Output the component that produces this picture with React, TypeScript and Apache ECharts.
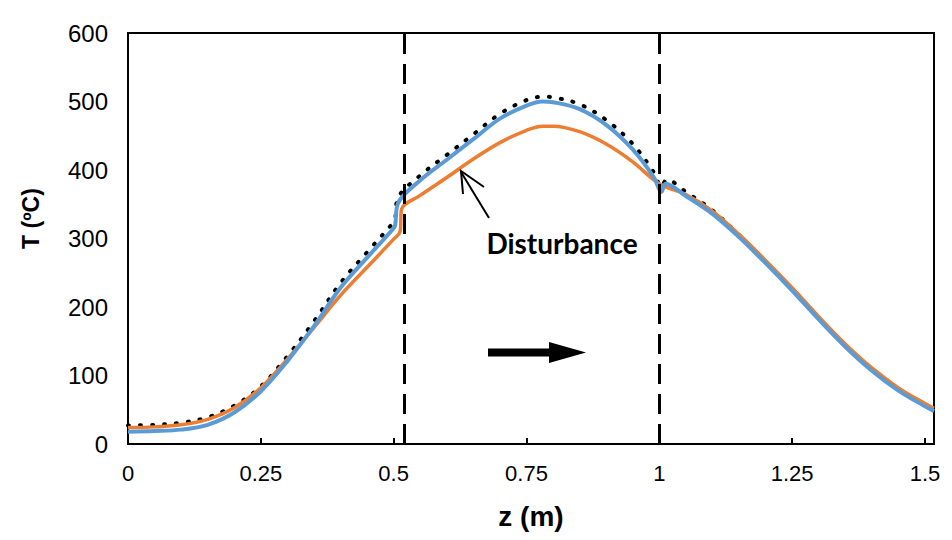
import React, { useEffect, useRef } from "react";
import * as echarts from "echarts";

// z positions (m) and temperatures (°C)
const zOrange = [0, 0.05, 0.1, 0.15, 0.2, 0.25, 0.3, 0.35, 0.4, 0.45, 0.5, 0.512, 0.515, 0.55, 0.6, 0.65, 0.7, 0.75, 0.78, 0.8, 0.85, 0.9, 0.95, 1.0, 1.05, 1.1, 1.15, 1.2, 1.25, 1.3, 1.35, 1.4, 1.45, 1.5, 1.517];
const tOrange = [24, 25, 28, 36, 53, 82, 124, 170, 217, 258, 299, 310, 343, 363, 389, 416, 440, 458, 464, 464, 456, 438, 412, 380, 364, 340, 306, 268, 228, 186, 146, 111, 82, 59, 52];

const zBlue = [0, 0.05, 0.1, 0.15, 0.2, 0.25, 0.3, 0.35, 0.4, 0.45, 0.5, 0.503, 0.508, 0.55, 0.6, 0.65, 0.7, 0.75, 0.78, 0.8, 0.85, 0.9, 0.95, 0.99, 1.004, 1.012, 1.05, 1.1, 1.15, 1.2, 1.25, 1.3, 1.35, 1.4, 1.45, 1.5, 1.517];
const tBlue = [18, 19, 21, 28, 46, 77, 121, 172, 228, 272, 315, 320, 351, 385, 415, 445, 475, 494, 500, 499, 489, 466, 430, 389, 368, 380, 362, 336, 302, 264, 224, 182, 142, 107, 78, 55, 48];

const zDotted = [0, 0.05, 0.1, 0.15, 0.2, 0.25, 0.3, 0.35, 0.4, 0.45, 0.5, 0.503, 0.508, 0.55, 0.6, 0.65, 0.7, 0.75, 0.78, 0.8, 0.85, 0.9, 0.95, 0.99, 1.004, 1.014, 1.05, 1.1, 1.15, 1.2, 1.25, 1.3, 1.35, 1.4, 1.45, 1.5, 1.517];
const tDotted = [27, 28, 31, 39, 56, 84, 128, 179, 235, 280, 324, 330, 359, 392, 422, 452, 482, 502, 507, 506, 496, 473, 438, 396, 375, 386, 368, 341, 305, 266, 226, 184, 144, 109, 80, 57, 50];

const disturbanceLines = [0.515, 1.0];
const xTickStep = 0.25;

const pairs = (zs: number[], ts: number[]) => zs.map((z, i) => [z, ts[i]]);

export default function App() {
  const ref = useRef<HTMLDivElement>(null);

  useEffect(() => {
    if (!ref.current) return;
    const chart = echarts.init(ref.current, undefined, { renderer: "svg" });
    const option: any = {
      animation: false,
      backgroundColor: "#ffffff",
      grid: {
        left: 128,
        right: 18,
        top: 33,
        bottom: 96,
        show: true,
        borderColor: "#000",
        borderWidth: 2,
      },
      xAxis: {
        type: "value",
        min: 0,
        max: 1.517,
        interval: xTickStep,
        name: "z (m)",
        nameLocation: "middle",
        nameGap: 58,
        nameTextStyle: {
          fontFamily: "Liberation Sans Narrow, Liberation Sans, Arial",
          fontWeight: "bold",
          fontSize: 28,
          color: "#000",
        },
        axisLine: { show: true, onZero: false, lineStyle: { color: "#000", width: 2 } },
        axisTick: { show: true, inside: true, length: 6, lineStyle: { color: "#000", width: 2 } },
        splitLine: { show: false },
        axisLabel: {
          showMaxLabel: false,
          margin: 18,
          fontFamily: "Liberation Sans Narrow, Liberation Sans, Arial",
          fontSize: 22,
          color: "#000",
          formatter: (v: number) => {
            const k = v / xTickStep;
            return Math.abs(k - Math.round(k)) < 1e-6 ? String(+v.toFixed(2)) : "";
          },
        },
      },
      yAxis: {
        type: "value",
        min: 0,
        max: 600,
        interval: 100,
        name: "T (ºC)",
        nameLocation: "middle",
        nameGap: 86,
        nameTextStyle: {
          fontFamily: "Liberation Sans, Arial",
          fontWeight: "bold",
          fontSize: 23,
          color: "#000",
          padding: [0, 0, 0, 40],
        },
        axisLine: { show: true, lineStyle: { color: "#000", width: 2 } },
        axisTick: { show: false },
        splitLine: { show: false },
        axisLabel: {
          margin: 20,
          fontFamily: "Liberation Sans, Arial",
          fontSize: 24,
          color: "#000",
        },
      },
      series: [
        {
          name: "dotted",
          type: "line",
          data: pairs(zDotted, tDotted),
          showSymbol: false,
          smooth: 0.35,
          lineStyle: { color: "#000", width: 4, type: [1, 11], cap: "round" },
          z: 2,
        },
        {
          name: "orange",
          type: "line",
          data: pairs(zOrange, tOrange),
          showSymbol: false,
          smooth: 0.35,
          lineStyle: { color: "#ED7D31", width: 3.5 },
          z: 3,
          markLine: {
            silent: true,
            symbol: ["none", "none"],
            label: { show: false },
            lineStyle: { color: "#000", width: 3, type: [20, 10] },
            data: disturbanceLines.map((x) => ({ xAxis: x })),
          },
        },
        {
          name: "blue",
          type: "line",
          data: pairs(zBlue, tBlue),
          showSymbol: false,
          smooth: 0.35,
          lineStyle: { color: "#5B9BD5", width: 4 },
          z: 4,
        },
      ],
      graphic: [
        {
          type: "line",
          shape: { x1: 489, y1: 218, x2: 461, y2: 172 },
          style: { stroke: "#000", lineWidth: 2 },
          z: 10,
        },
        {
          type: "polyline",
          shape: { points: [[463, 194], [461, 171], [484, 187]] },
          style: { stroke: "#000", lineWidth: 2, fill: null },
          z: 10,
        },
        {
          type: "text",
          x: 562,
          y: 243,
          style: {
            text: "Disturbance",
            fontFamily: "Lato, Open Sans, sans-serif",
            fontWeight: "bold",
            fontSize: 28,
            fill: "#000",
            align: "center",
            verticalAlign: "middle",
          },
          z: 10,
        },
        {
          type: "rect",
          shape: { x: 488, y: 348.5, width: 63, height: 8 },
          style: { fill: "#000" },
          z: 10,
        },
        {
          type: "polygon",
          shape: { points: [[549, 342], [586, 352.5], [549, 363]] },
          style: { fill: "#000" },
          z: 10,
        },
      ],
    };
    chart.setOption(option);
    return () => chart.dispose();
  }, []);

  return <div ref={ref} style={{ width: 952, height: 540, position: "fixed", left: 0, top: 0 }} />;
}
